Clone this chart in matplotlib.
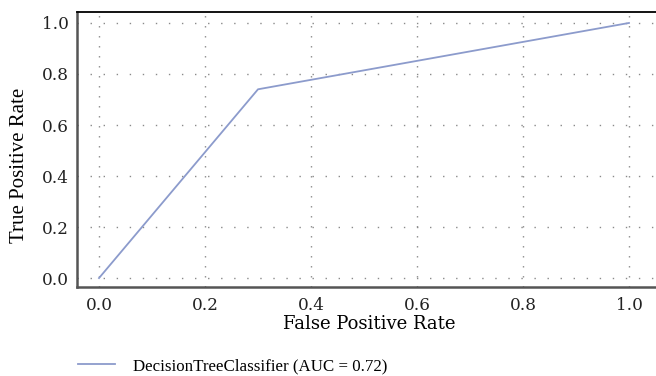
import matplotlib
matplotlib.use("Agg")
import matplotlib.pyplot as plt
import numpy as np

# ROC curve of the decision tree
fpr = [0.0, 0.3, 1.0]
tpr = [0.0, 0.74, 1.0]
auc_value = 0.72
ticks = [0.0, 0.2, 0.4, 0.6, 0.8, 1.0]
tick_labels = ["0.0", "0.2", "0.4", "0.6", "0.8", "1.0"]

fig = plt.figure(figsize=(6.56, 3.76), dpi=100)
ax = fig.add_axes([0.1174, 0.2367, 0.9146, 0.7314])

ax.plot(fpr, tpr, color="#8c9bcc", lw=1.3,
        label="DecisionTreeClassifier (AUC = %.2f)" % auc_value)

ax.set_xlim(-0.0415, 1.0906)
ax.set_ylim(-0.035, 1.043)
ax.set_xticks(ticks)
ax.set_xticklabels(tick_labels, family="DejaVu Serif", fontsize=12.2)
ax.set_yticks(ticks)
ax.set_yticklabels(tick_labels, family="DejaVu Serif", fontsize=12.2)
ax.tick_params(length=0, colors="#222222")
ax.tick_params(axis="y", pad=6)
ax.tick_params(axis="x", pad=7)

# dotted grid, dots closer together on the vertical lines
ax.xaxis.grid(True, color="#8a8a8a", linestyle=(0, (1, 6.2)), lw=1.0)
ax.yaxis.grid(True, color="#8a8a8a", linestyle=(0, (1, 8.4)), lw=1.0)

for s in ["left", "bottom"]:
    ax.spines[s].set_color("#555555")
    ax.spines[s].set_linewidth(1.8)
ax.spines["top"].set_color("black")
ax.spines["top"].set_linewidth(1.3)
ax.spines["right"].set_visible(False)

ax.set_xlabel("False Positive Rate", family="DejaVu Serif", fontsize=13)
ax.xaxis.set_label_coords(0.487, -0.1)
ax.set_ylabel("True Positive Rate", family="Liberation Serif", fontsize=15)
ax.yaxis.set_label_coords(-0.08, 0.4436)

leg = ax.legend(loc="center left", bbox_to_anchor=(0.0017, -0.287), frameon=False,
                prop={"family": "Liberation Serif", "size": 12.2}, handlelength=2.2,
                handletextpad=1.05, borderaxespad=0, borderpad=0)

fig.savefig("out.png", dpi=100)
